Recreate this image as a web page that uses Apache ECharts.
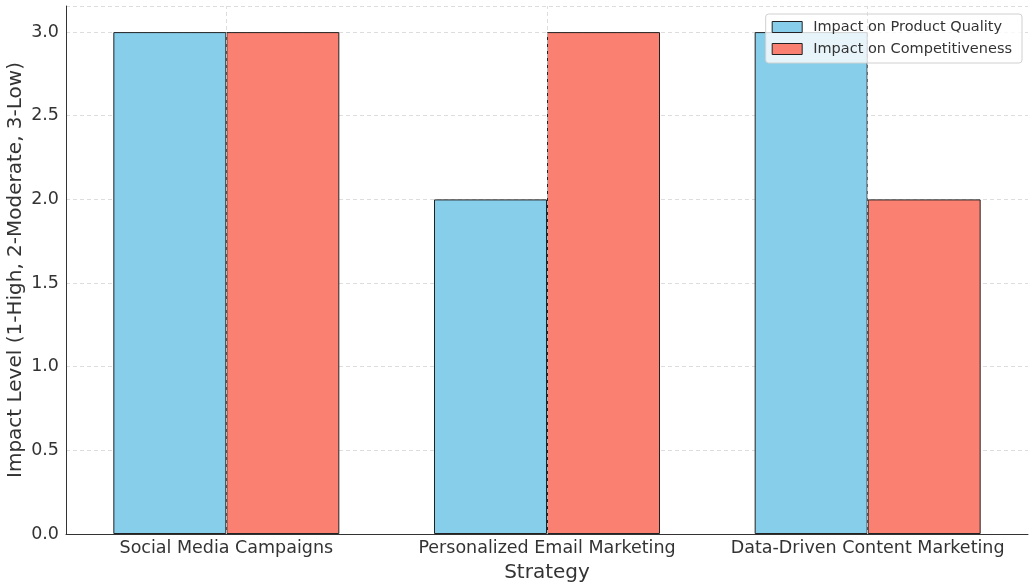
<!DOCTYPE html>
<html>
<head>
<meta charset="utf-8">
<script src="https://cdn.jsdelivr.net/npm/echarts@6/dist/echarts.min.js"></script>
<style>
  html, body { margin: 0; padding: 0; background: #fff; }
  #chart { width: 1029px; height: 582px; }
</style>
</head>
<body>
<div id="chart"></div>
<script>
// data
const strategies = ["Social Media Campaigns", "Personalized Email Marketing", "Data-Driven Content Marketing"];
const productQuality = [3, 2, 3];
const competitiveness = [3, 3, 2];
const seriesNames = ["Impact on Product Quality", "Impact on Competitiveness"];

const chart = echarts.init(document.getElementById("chart"));
const font = "DejaVu Sans";
const gridDash = { color: "#d4d4d4", type: [4, 3], width: 0.8 };

const option = {
  animation: false,
  backgroundColor: "#fff",
  grid: { left: 66, right: 1, top: 6, bottom: 48, containLabel: false, outerBoundsMode: "none" },
  legend: {
    data: seriesNames,
    orient: "vertical",
    right: 7,
    top: 14,
    padding: [5, 10, 6, 6],
    icon: "rect",
    itemWidth: 30,
    itemHeight: 11,
    itemGap: 6,
    borderColor: "#d0d0d0",
    borderWidth: 1,
    borderRadius: 3,
    backgroundColor: "rgba(255,255,255,0.8)",
    textStyle: { fontFamily: font, fontSize: 14.5, color: "#333", lineHeight: 16, padding: [0, 0, 0, 6] },
    itemStyle: { borderColor: "#222", borderWidth: 1 }
  },
  xAxis: {
    type: "category",
    data: strategies,
    name: "Strategy",
    nameLocation: "middle",
    nameGap: 29,
    nameTextStyle: { fontFamily: font, fontSize: 20, color: "#333" },
    axisLine: { lineStyle: { color: "#333", width: 1 } },
    axisTick: { show: false },
    axisLabel: { interval: 0, fontFamily: font, fontSize: 17.5, color: "#333", margin: 5 },
    splitLine: { show: false }
  },
  yAxis: {
    type: "value",
    min: 0,
    max: 3.156,
    interval: 0.5,
    name: "Impact Level (1-High, 2-Moderate, 3-Low)",
    nameLocation: "middle",
    nameGap: 40,
    nameMoveOverlap: false,
    nameTextStyle: { fontFamily: font, fontSize: 20, color: "#333" },
    axisLine: { show: true, lineStyle: { color: "#333", width: 1 } },
    axisTick: { show: false },
    axisLabel: {
      fontFamily: font, fontSize: 17.5, color: "#333", margin: 7,
      showMaxLabel: false,
      formatter: v => v.toFixed(1)
    },
    splitLine: { show: true, lineStyle: gridDash }
  },
  series: [
    {
      // carries only the vertical grid lines at the category centres
      type: "line",
      data: [],
      z: 1,
      silent: true,
      markLine: {
        silent: true,
        symbol: "none",
        label: { show: false },
        lineStyle: gridDash,
        data: strategies.map(s => ({ xAxis: s }))
      }
    },
    {
      name: seriesNames[0],
      type: "bar",
      data: productQuality,
      barWidth: 113,
      barGap: "0%",
      z: 3,
      itemStyle: { color: "#87CEEB", borderColor: "#222", borderWidth: 1 }
    },
    {
      name: seriesNames[1],
      type: "bar",
      data: competitiveness,
      barWidth: 113,
      barGap: "0%",
      z: 3,
      itemStyle: { color: "#FA8072", borderColor: "#222", borderWidth: 1 }
    }
  ]
};

chart.setOption(option);
</script>
</body>
</html>
